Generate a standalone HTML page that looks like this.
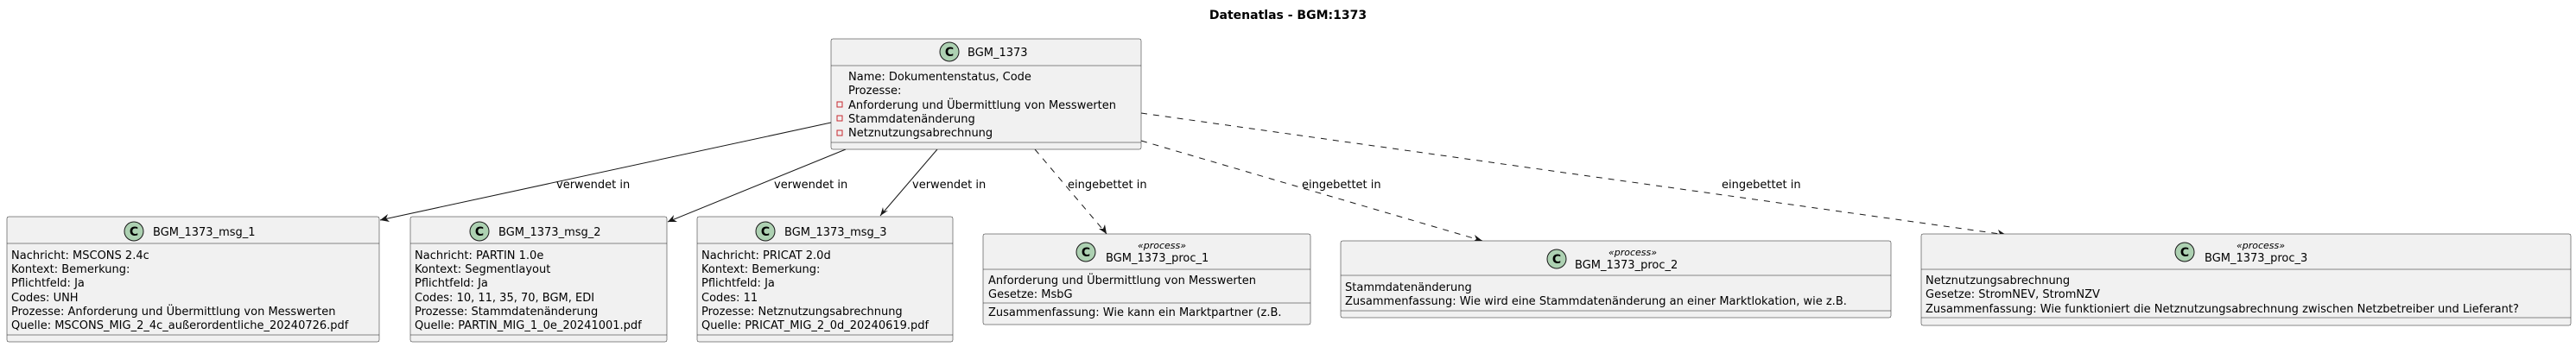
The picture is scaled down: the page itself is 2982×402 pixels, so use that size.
<!DOCTYPE html>
<html><head><meta charset="utf-8"><style>
html,body{margin:0;padding:0;background:#fff;}
svg{display:block;}
text{font-family:"DejaVu Sans","Liberation Sans",sans-serif;font-size:13px;fill:#000;}
.b{fill:#F1F1F1;stroke:#181818;stroke-width:0.5;}
.l{stroke:#181818;stroke-width:0.5;}
.c{fill:#ADD1B2;stroke:#181818;stroke-width:1;}
.ct{font-weight:bold;font-size:14px;}
.st{font-style:italic;font-size:11px;}
.e{stroke:#181818;stroke-width:1;fill:none;}
.d{stroke:#181818;stroke-width:1;fill:none;stroke-dasharray:7,7;}
</style></head><body>
<svg width="2982" height="402" viewBox="0 0 2982 402">
<text x="1491" y="22" text-anchor="middle" style="font-weight:bold;font-size:14px">Datenatlas - BGM:1373</text>

<!-- connectors -->
<line class="e" x1="962" y1="142" x2="440" y2="255"/>
<polygon points="440,255 449,248 447,253 451,257" fill="#181818"/>
<text x="644" y="218">verwendet in</text>
<line class="e" x1="979" y1="173" x2="773" y2="257"/>
<polygon points="773,257 780,249 779,254 784,257" fill="#181818"/>
<text x="896" y="218">verwendet in</text>
<line class="e" x1="1085" y1="173" x2="1019" y2="250"/>
<polygon points="1019,250 1022,240 1023,245 1028,244" fill="#181818"/>
<text x="1056" y="218">verwendet in</text>
<line class="d" x1="1198" y1="173" x2="1281" y2="271"/>
<polygon points="1281,271 1272,265 1277,265 1279,260" fill="#181818"/>
<text x="1236" y="218">eingebettet in</text>
<line class="d" x1="1321" y1="163" x2="1716" y2="279"/>
<polygon points="1716,279 1705,280 1709,277 1707,272" fill="#181818"/>
<text x="1507" y="218">eingebettet in</text>
<line class="d" x1="1321" y1="131" x2="2322" y2="272"/>
<polygon points="2322,272 2312,274 2315,271 2313,266" fill="#181818"/>
<text x="1993" y="218">eingebettet in</text>

<!-- main -->
<rect class="b" x="962" y="45" width="359" height="128" rx="2"/>
<line class="l" x1="962" y1="76" x2="1321" y2="76"/>
<line class="l" x1="962" y1="165" x2="1321" y2="165"/>
<circle class="c" cx="1099" cy="60" r="11"/>
<text class="ct" x="1099" y="65" text-anchor="middle">C</text>
<text x="1120" y="65">BGM_1373</text>
<text x="982" y="93">Name: Dokumentenstatus, Code</text>
<text x="982" y="109">Prozesse:</text>
<text x="982" y="126">Anforderung und Übermittlung von Messwerten</text>
<text x="982" y="142">Stammdatenänderung</text>
<text x="982" y="158">Netznutzungsabrechnung</text>
<rect x="969" y="118" width="6" height="6" fill="none" stroke="#C82930" stroke-width="1"/>
<rect x="969" y="134" width="6" height="6" fill="none" stroke="#C82930" stroke-width="1"/>
<rect x="969" y="151" width="6" height="6" fill="none" stroke="#C82930" stroke-width="1"/>

<!-- msg_1 -->
<rect class="b" x="8" y="251" width="431" height="145" rx="2"/>
<line class="l" x1="8" y1="282" x2="439" y2="282"/>
<line class="l" x1="8" y1="388" x2="439" y2="388"/>
<circle class="c" cx="155" cy="268" r="11"/>
<text class="ct" x="155" y="273" text-anchor="middle">C</text>
<text x="177" y="273">BGM_1373_msg_1</text>
<text x="13" y="300">Nachricht: MSCONS 2.4c</text>
<text x="13" y="316">Kontext: Bemerkung:</text>
<text x="13" y="332">Pflichtfeld: Ja</text>
<text x="13" y="349">Codes: UNH</text>
<text x="13" y="365">Prozesse: Anforderung und Übermittlung von Messwerten</text>
<text x="13" y="381">Quelle: MSCONS_MIG_2_4c_außerordentliche_20240726.pdf</text>

<!-- msg_2 -->
<rect class="b" x="475" y="251" width="297" height="145" rx="2"/>
<line class="l" x1="475" y1="282" x2="772" y2="282"/>
<line class="l" x1="475" y1="388" x2="772" y2="388"/>
<circle class="c" cx="555" cy="268" r="11"/>
<text class="ct" x="555" y="273" text-anchor="middle">C</text>
<text x="577" y="273">BGM_1373_msg_2</text>
<text x="480" y="300">Nachricht: PARTIN 1.0e</text>
<text x="480" y="316">Kontext: Segmentlayout</text>
<text x="480" y="332">Pflichtfeld: Ja</text>
<text x="480" y="349">Codes: 10, 11, 35, 70, BGM, EDI</text>
<text x="480" y="365">Prozesse: Stammdatenänderung</text>
<text x="480" y="381">Quelle: PARTIN_MIG_1_0e_20241001.pdf</text>

<!-- msg_3 -->
<rect class="b" x="807" y="251" width="296" height="145" rx="2"/>
<line class="l" x1="807" y1="282" x2="1103" y2="282"/>
<line class="l" x1="807" y1="388" x2="1103" y2="388"/>
<circle class="c" cx="886" cy="268" r="11"/>
<text class="ct" x="886" y="273" text-anchor="middle">C</text>
<text x="908" y="273">BGM_1373_msg_3</text>
<text x="812" y="300">Nachricht: PRICAT 2.0d</text>
<text x="812" y="316">Kontext: Bemerkung:</text>
<text x="812" y="332">Pflichtfeld: Ja</text>
<text x="812" y="349">Codes: 11</text>
<text x="812" y="365">Prozesse: Netznutzungsabrechnung</text>
<text x="812" y="381">Quelle: PRICAT_MIG_2_0d_20240619.pdf</text>

<!-- proc_1 -->
<rect class="b" x="1138" y="271" width="379" height="105" rx="2"/>
<line class="l" x1="1138" y1="312" x2="1517" y2="312"/>
<line class="l" x1="1138" y1="351" x2="1517" y2="351"/>
<circle class="c" cx="1257" cy="292" r="11"/>
<text class="ct" x="1257" y="297" text-anchor="middle">C</text>
<text class="st" x="1345" y="288" text-anchor="middle">«process»</text>
<text x="1280" y="303">BGM_1373_proc_1</text>
<text x="1144" y="329">Anforderung und Übermittlung von Messwerten</text>
<text x="1144" y="345">Gesetze: MsbG</text>
<text x="1144" y="366">Zusammenfassung: Wie kann ein Marktpartner (z.B.</text>

<!-- proc_2 -->
<rect class="b" x="1552" y="279" width="637" height="89" rx="2"/>
<line class="l" x1="1552" y1="319" x2="2189" y2="319"/>
<line class="l" x1="1552" y1="360" x2="2189" y2="360"/>
<circle class="c" cx="1802" cy="300" r="11"/>
<text class="ct" x="1802" y="305" text-anchor="middle">C</text>
<text class="st" x="1890" y="296" text-anchor="middle">«process»</text>
<text x="1823" y="311">BGM_1373_proc_2</text>
<text x="1557" y="337">Stammdatenänderung</text>
<text x="1557" y="353">Zusammenfassung: Wie wird eine Stammdatenänderung an einer Marktlokation, wie z.B.</text>

<!-- proc_3 -->
<rect class="b" x="2224" y="271" width="752" height="106" rx="2"/>
<line class="l" x1="2224" y1="312" x2="2976" y2="312"/>
<line class="l" x1="2224" y1="368" x2="2976" y2="368"/>
<circle class="c" cx="2529" cy="292" r="11"/>
<text class="ct" x="2529" y="297" text-anchor="middle">C</text>
<text class="st" x="2617" y="288" text-anchor="middle">«process»</text>
<text x="2552" y="303">BGM_1373_proc_3</text>
<text x="2229" y="329">Netznutzungsabrechnung</text>
<text x="2229" y="345">Gesetze: StromNEV, StromNZV</text>
<text x="2229" y="362">Zusammenfassung: Wie funktioniert die Netznutzungsabrechnung zwischen Netzbetreiber und Lieferant?</text>
</svg>
</body></html>
